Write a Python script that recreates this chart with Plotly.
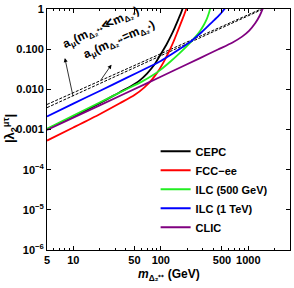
import math
import plotly.graph_objects as go

# ---- data ----
cepc_m = [5, 10, 20, 34, 45, 57, 70, 85, 100, 115, 130, 145, 160, 172, 183]
cepc_l = [0.00102, 0.0021, 0.0045, 0.0085, 0.0118, 0.0165, 0.025, 0.042, 0.075, 0.125, 0.21, 0.35, 0.58, 0.85, 1.25]

fcc_m = [5, 10, 20, 34, 50, 65, 80, 95, 110, 125, 140, 155, 170, 185, 197, 202]
fcc_l = [0.00053, 0.00112, 0.0024, 0.0045, 0.0072, 0.0112, 0.018, 0.03, 0.052, 0.09, 0.155, 0.27, 0.45, 0.72, 1.05, 1.3]

ilc500_m = [5, 10, 20, 40, 60, 80, 100, 130, 160, 200, 240, 280, 310, 335, 352, 366, 372]
ilc500_l = [0.00105, 0.00222, 0.0047, 0.0099, 0.0153, 0.022, 0.031, 0.05, 0.075, 0.12, 0.185, 0.28, 0.4, 0.56, 0.75, 1.0, 1.15]

ilc1t_m = [5, 10, 20, 40, 75, 100, 137, 178, 220, 253, 290, 330, 392, 460, 510, 545]
ilc1t_l = [0.0021, 0.0044, 0.0091, 0.019, 0.037, 0.051, 0.078, 0.113, 0.155, 0.2, 0.26, 0.34, 0.485, 0.68, 0.88, 1.05]

clic_m = [5, 20, 72, 137, 277, 450, 662, 850, 1026, 1200, 1350, 1460, 1500]
clic_l = [0.00097, 0.004, 0.0147, 0.0285, 0.059, 0.098, 0.147, 0.205, 0.29, 0.44, 0.68, 1.0, 1.2]

amu_ll_m = [5, 1400]          # a_mu (m_D++ << m_D+)
amu_ll_l = [0.0042, 1.0]
amu_eq_m = [5, 1480]          # a_mu (m_D++ = m_D+)
amu_eq_l = [0.0035, 1.0]

names = ["CEPC", "FCC\u2212ee", "ILC (500 GeV)", "ILC (1 TeV)", "CLIC"]
colors = ["#000000", "#ff0000", "#22ee22", "#0000ff", "#800080"]
series = [(cepc_m, cepc_l), (fcc_m, fcc_l), (ilc500_m, ilc500_l), (ilc1t_m, ilc1t_l), (clic_m, clic_l)]

xtick_vals = [5, 10, 50, 100, 500, 1000]
xtick_text = ["5", "10", "50", "100", "500", "1000"]
ytick_vals = [1, 0.1, 0.01, 0.001, 1e-4, 1e-5, 1e-6]
ytick_text = ["1", "0.100", "0.010", "0.001", "10<sup>\u22124</sup>", "10<sup>\u22125</sup>", "10<sup>\u22126</sup>"]

FONT = "Liberation Sans, Arial, sans-serif"

fig = go.Figure()

for m, l in [(amu_ll_m, amu_ll_l), (amu_eq_m, amu_eq_l)]:
    fig.add_trace(go.Scatter(x=m, y=l, mode="lines", showlegend=False,
                             line=dict(color="black", width=1, dash="3px,1.5px")))

for (m, l), name, c in zip(series, names, colors):
    fig.add_trace(go.Scatter(x=m, y=l, mode="lines", name=name,
                             line=dict(color=c, width=1.8, shape="spline", smoothing=0.6)))

ann_font = dict(family=FONT, size=12, color="black")
fig.add_annotation(x=math.log10(21), y=math.log10(0.33), xref="x", yref="y",
                   text="<b>a<sub>\u03bc</sub>(m<sub>\u0394\u2082\u207a\u207a</sub>\u226am<sub>\u0394\u2082\u207a</sub>)</b>",
                   showarrow=False, textangle=-25, font=ann_font)
fig.add_annotation(x=math.log10(34), y=math.log10(0.17), xref="x", yref="y",
                   text="<b>a<sub>\u03bc</sub>(m<sub>\u0394\u2082\u207a\u207a</sub>=m<sub>\u0394\u2082\u207a</sub>)</b>",
                   showarrow=False, textangle=-24, font=ann_font)
# arrows
fig.add_annotation(x=math.log10(8.0), y=math.log10(0.06), ax=math.log10(10), ay=math.log10(0.0062),
                   xref="x", yref="y", axref="x", ayref="y", text="", showarrow=True,
                   arrowhead=2, arrowsize=1, arrowwidth=0.8, arrowcolor="black")
fig.add_annotation(x=math.log10(27.3), y=math.log10(0.041), ax=math.log10(20), ay=math.log10(0.0155),
                   xref="x", yref="y", axref="x", ayref="y", text="", showarrow=True,
                   arrowhead=2, arrowsize=1, arrowwidth=0.8, arrowcolor="black")

# axis titles
fig.add_annotation(x=0.5, y=-0.103, xref="paper", yref="paper", showarrow=False,
                   xanchor="center", yanchor="middle",
                   text="<b><i>m</i><sub>\u0394\u2082\u207a\u207a</sub> (GeV)</b>",
                   font=dict(family=FONT, size=12, color="black"))
fig.add_annotation(x=-0.152, y=0.502, xref="paper", yref="paper", showarrow=False,
                   xanchor="center", yanchor="middle", textangle=-90,
                   text="<b>|\u03bb<sub>2</sub><sup>\u03bc\u03c4</sup>|</b>",
                   font=dict(family=FONT, size=13, color="black"))

minor_x = [6, 7, 8, 9, 20, 30, 40, 60, 70, 80, 90, 200, 300, 400, 600, 700, 800, 900, 2000, 3000]

fig.update_xaxes(type="log", range=[math.log10(5), math.log10(3000)],
                 tickvals=xtick_vals, ticktext=xtick_text,
                 ticks="inside", ticklen=4, tickcolor="black", mirror="allticks",
                 showline=True, linecolor="black", linewidth=1, showgrid=False, zeroline=False,
                 tickfont=dict(family=FONT, size=11, color="black", weight="bold"),
                 minor=dict(tickvals=minor_x, ticks="inside", ticklen=2, tickcolor="black", showgrid=False))
fig.update_yaxes(type="log", range=[-6, 0],
                 tickvals=ytick_vals, ticktext=ytick_text,
                 ticks="inside", ticklen=4, tickcolor="black", mirror="allticks",
                 showline=True, linecolor="black", linewidth=1, showgrid=False, zeroline=False,
                 tickfont=dict(family=FONT, size=11, color="black", weight="bold"))

fig.update_layout(width=294, height=288, margin=dict(l=47, r=3, t=7, b=38),
                  paper_bgcolor="white", plot_bgcolor="white",
                  legend=dict(x=0.447, y=0.47, xanchor="left", yanchor="top",
                              bgcolor="rgba(0,0,0,0)",
                              font=dict(family=FONT, size=11, color="black", weight="bold"),
                              itemwidth=30))

fig.write_html("out.html", config={"displayModeBar": False},
               post_script="document.body.style.margin='0px';")
